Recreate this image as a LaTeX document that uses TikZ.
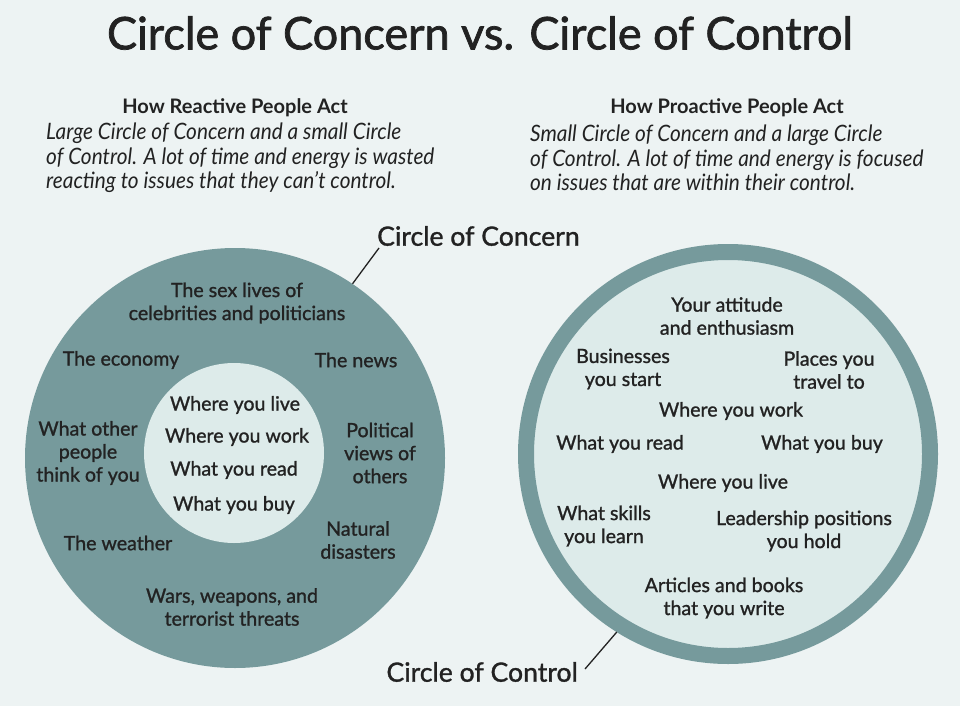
\documentclass[tikz,border=0pt]{standalone}
\usepackage{fontspec}
\setmainfont{Lato}
\newfontfamily\medfont{Lato}[RawFeature={embolden=1.2}]
\newfontfamily\titlefont{Lato}[RawFeature={embolden=1.6}]
\newfontfamily\condfont{Lato}[FakeStretch=0.92]
\definecolor{bgc}{HTML}{EDF3F3}
\definecolor{tealc}{HTML}{769A9C}
\definecolor{lightc}{HTML}{DDEBEA}
\definecolor{inkc}{HTML}{222222}
\begin{document}
\begin{tikzpicture}[x=1pt,y=-1pt,
  lbl/.style={align=center, inner sep=0, text=inkc, font=\medfont\fontsize{19.6}{23}\selectfont},
  head/.style={inner sep=0, text=inkc, font=\fontsize{20}{24}\selectfont\bfseries},
  body/.style={align=left, inner sep=0, anchor=west, text=inkc, font=\condfont\itshape\fontsize{22.6}{24.5}\selectfont},
  big/.style={inner sep=0, text=inkc, font=\medfont\fontsize{26.6}{30}\selectfont},
  leader/.style={draw=inkc, line width=1.3pt}]
\fill[bgc] (0,0) rectangle (960,706);
\useasboundingbox (0,0) rectangle (960,706);

\node[inner sep=0, text=inkc, font=\titlefont\fontsize{45}{50}\selectfont] (title) at (480,33) {Circle of Concern vs. Circle of Control};

\node[head] (hreact) at (235,108) {How Reactive People Act};
\node[head] (hpro) at (727,108) {How Proactive People Act};
\node[body] (breact) at (46,158) {Large Circle of Concern and a small Circle\\of Control. A lot of time and energy is wasted\\reacting to issues that they can’t control.};
\node[body] (bpro) at (530,158) {Small Circle of Concern and a large Circle\\of Control. A lot of time and energy is focused\\on issues that are within their control.};

% left circles
\node[circle, fill=tealc, inner sep=0, minimum size=420pt] (concern) at (235,458) {};
\node[circle, fill=lightc, inner sep=0, minimum size=180pt] (inner) at (234,453) {};
% right circle
\node[circle, fill=lightc, draw=tealc, line width=16pt, inner sep=0, minimum size=404pt] (control) at (728,454) {};

% labels with leaders
\node[big, anchor=west] (ccl) at (377,236) {Circle of Concern};
\coordinate (cca) at (379,248);
\draw[leader] (cca) -- (concern.56.6);
\node[big, anchor=east] (ctl) at (578,672) {Circle of Control};
\coordinate (cta) at (585,669);
\draw[leader] (cta) -- (control.238.4);

% left outer texts
\node[lbl] (sex) at (237,303) {The sex lives of\\celebrities and politicians};
\node[lbl] (econ) at (121,360) {The economy};
\node[lbl] (news) at (356,360) {The news};
\node[lbl] (other) at (88,453) {What other\\people\\think of you};
\node[lbl] (pol) at (380,453) {Political\\views of\\others};
\node[lbl] (weather) at (118,543) {The weather};
\node[lbl] (nat) at (358,540) {Natural\\disasters};
\node[lbl] (wars) at (232,607) {Wars, weapons, and\\terrorist threats};
% left inner texts
\node[lbl] (ilive) at (235,405) {Where you live};
\node[lbl] (iwork) at (237,437) {Where you work};
\node[lbl] (iread) at (234,470) {What you read};
\node[lbl] (ibuy) at (234,505) {What you buy};

% right texts
\node[lbl] (att) at (727,316) {Your attitude\\and enthusiasm};
\node[lbl] (bus) at (623,369) {Businesses\\you start};
\node[lbl] (travel) at (829,370) {Places you\\travel to};
\node[lbl] (rwork) at (731,411) {Where you work};
\node[lbl] (rread) at (620,444) {What you read};
\node[lbl] (rbuy) at (822,444) {What you buy};
\node[lbl] (rlive) at (723,483) {Where you live};
\node[lbl] (skills) at (604,526) {What skills\\you learn};
\node[lbl] (lead) at (804,531) {Leadership positions\\you hold};
\node[lbl] (art) at (724,598) {Articles and books\\that you write};
\end{tikzpicture}
\end{document}
